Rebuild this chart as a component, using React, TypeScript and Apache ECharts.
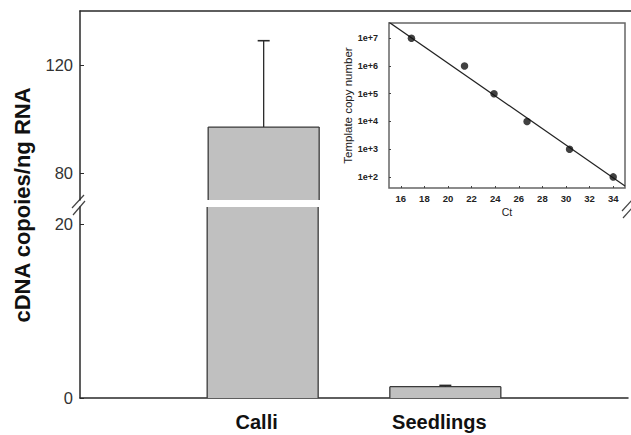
import React, { useEffect, useRef } from "react";
import * as echarts from "echarts";

// ---- data ----
const categories = ["Calli", "Seedlings"];
const meanCopies = [97, 1.3];
const errorTops = [129, 1.45];
const upperTicks = [80, 120];
const lowerTicks = [0, 20];

const stdCt = [16.9, 21.4, 23.9, 26.7, 30.3, 34.0];
const stdCopies = [1e7, 1e6, 1e5, 1e4, 1e3, 1e2];
const fitCt = [15, 35];
const fitCopies = [3.8e7, 4.7e1];
const insetXTicks = [16, 18, 20, 22, 24, 26, 28, 30, 32, 34];
const insetYTickExps = [2, 3, 4, 5, 6, 7];

const FONT = "'Liberation Sans', Arial, Helvetica, sans-serif";
const BAR_HALF = 55.5;

export default function App() {
  const ref = useRef<HTMLDivElement>(null);

  useEffect(() => {
    if (!ref.current) return;
    const chart = echarts.init(ref.current, undefined, { renderer: "svg" });

    const xData = ["", ...categories, ""];
    const barData = categories.map((c, i) => [c, meanCopies[i]]);
    const errData = categories.map((c, i) => [c, meanCopies[i], errorTops[i]]);

    const axisLineStyle = { color: "#2a2a2a", width: 1.5 };
    const edge = "#3a3a3a";

    // bar drawn through the axes; sides/top outlined only where the bar really ends
    const barRender = (params: any, api: any) => {
      const cs = params.coordSys;
      const p = api.coord([api.value(0), api.value(1)]);
      const yMin = cs.y;
      const yMax = cs.y + cs.height;
      const x = p[0];
      if (p[1] >= yMax) return { type: "group", children: [] };
      const top = Math.max(p[1], yMin);
      const children: any[] = [
        {
          type: "rect",
          shape: { x: x - BAR_HALF, y: top, width: BAR_HALF * 2, height: yMax - top },
          style: { fill: "#c0c0c0" },
        },
        {
          type: "line",
          shape: { x1: x - BAR_HALF, y1: top, x2: x - BAR_HALF, y2: yMax },
          style: { stroke: edge, lineWidth: 1.3 },
        },
        {
          type: "line",
          shape: { x1: x + BAR_HALF, y1: top, x2: x + BAR_HALF, y2: yMax },
          style: { stroke: edge, lineWidth: 1.3 },
        },
      ];
      if (p[1] >= yMin) {
        children.push({
          type: "line",
          shape: { x1: x - BAR_HALF, y1: p[1], x2: x + BAR_HALF, y2: p[1] },
          style: { stroke: edge, lineWidth: 1.3 },
        });
      }
      return { type: "group", children };
    };

    const errorRender = (params: any, api: any) => {
      const cs = params.coordSys;
      const base = api.coord([api.value(0), api.value(1)]);
      const top = api.coord([api.value(0), api.value(2)]);
      const yMin = cs.y;
      const yMax = cs.y + cs.height;
      const clamp = (v: number) => Math.min(Math.max(v, yMin), yMax);
      const y1 = clamp(base[1]);
      const y2 = clamp(top[1]);
      const x = base[0];
      const children: any[] = [];
      if (Math.abs(y1 - y2) > 0.01) {
        children.push({
          type: "line",
          shape: { x1: x, y1, x2: x, y2 },
          style: { stroke: "#2a2a2a", lineWidth: 1.3 },
        });
      }
      if (top[1] >= yMin && top[1] <= yMax) {
        children.push({
          type: "line",
          shape: { x1: x - 6, y1: top[1], x2: x + 6, y2: top[1] },
          style: { stroke: "#2a2a2a", lineWidth: 1.6 },
        });
      }
      return { type: "group", children };
    };

    const mainYAxis = (gridIndex: number, min: number, max: number, ticks: number[]) => ({
      gridIndex,
      type: "value",
      min,
      max,
      axisLine: { show: true, lineStyle: axisLineStyle },
      axisTick: { show: true, inside: true, length: 4, customValues: ticks, lineStyle: { color: "#2a2a2a" } },
      axisLabel: { customValues: ticks, fontSize: 16.5, color: "#333", margin: 7, fontFamily: FONT },
      splitLine: { show: false },
    });

    const option: any = {
      animation: false,
      backgroundColor: "#fff",
      grid: [
        { left: 80, top: 11, right: 0, height: 189 },
        { left: 80, top: 207, right: 0, bottom: 37 },
        {
          left: 389,
          top: 23,
          width: 236,
          height: 165,
          show: true,
          backgroundColor: "#fff",
          borderColor: "#666",
          borderWidth: 1.5,
        },
      ],
      xAxis: [
        {
          gridIndex: 0,
          type: "category",
          data: xData,
          boundaryGap: false,
          position: "top",
          axisLine: { show: true, onZero: false, lineStyle: axisLineStyle },
          axisTick: { show: false },
          axisLabel: { show: false },
        },
        {
          gridIndex: 1,
          type: "category",
          data: xData,
          boundaryGap: false,
          position: "bottom",
          axisLine: { show: true, onZero: false, lineStyle: axisLineStyle },
          axisTick: { show: false },
          axisLabel: {
            interval: 0,
            fontSize: 20,
            fontWeight: "bold",
            color: "#111",
            margin: 14,
            padding: [0, 12, 0, 0],
            fontFamily: FONT,
          },
        },
        {
          gridIndex: 2,
          type: "value",
          min: 15,
          max: 35,
          axisLine: { show: false },
          axisTick: { show: true, inside: true, length: 2, customValues: insetXTicks, lineStyle: { color: "#444" } },
          axisLabel: { customValues: insetXTicks, fontSize: 9.5, fontWeight: "bold", color: "#222", margin: 5, fontFamily: FONT },
          splitLine: { show: false },
          name: "Ct",
          nameLocation: "middle",
          nameGap: 18,
          nameTextStyle: { fontSize: 10.5, color: "#222", fontFamily: FONT },
        },
      ],
      yAxis: [
        mainYAxis(0, 70, 140, upperTicks),
        mainYAxis(1, 0, 22, lowerTicks),
        {
          gridIndex: 2,
          type: "value",
          min: 1.6,
          max: 7.55,
          axisLine: { show: false },
          axisTick: { show: true, inside: true, length: 2, customValues: insetYTickExps, lineStyle: { color: "#444" } },
          axisLabel: {
            customValues: insetYTickExps,
            formatter: (v: number) => "1e+" + v,
            fontSize: 9,
            fontWeight: "bold",
            color: "#222",
            margin: 11,
            fontFamily: FONT,
          },
          splitLine: { show: false },
          name: "Template copy number",
          nameLocation: "middle",
          nameGap: 35,
          nameTextStyle: { fontSize: 11.5, color: "#222", fontFamily: FONT },
        },
      ],
      series: [
        { type: "custom", xAxisIndex: 0, yAxisIndex: 0, data: barData, renderItem: barRender, z: 2 },
        { type: "custom", xAxisIndex: 1, yAxisIndex: 1, data: barData, renderItem: barRender, z: 2 },
        { type: "custom", xAxisIndex: 0, yAxisIndex: 0, data: errData, renderItem: errorRender, z: 5 },
        { type: "custom", xAxisIndex: 1, yAxisIndex: 1, data: errData, renderItem: errorRender, z: 5 },
        {
          type: "line",
          xAxisIndex: 2,
          yAxisIndex: 2,
          data: fitCt.map((x, i) => [x, Math.log10(fitCopies[i])]),
          symbol: "none",
          clip: true,
          lineStyle: { color: "#222", width: 1.2 },
          z: 3,
        },
        {
          type: "scatter",
          xAxisIndex: 2,
          yAxisIndex: 2,
          data: stdCt.map((x, i) => [x, Math.log10(stdCopies[i])]),
          symbolSize: 7.5,
          itemStyle: { color: "#111" },
          z: 4,
        },
      ],
      graphic: [
        {
          type: "text",
          x: 22,
          y: 205,
          rotation: Math.PI / 2,
          style: {
            text: "cDNA copoies/ng RNA",
            fontSize: 22,
            fontWeight: "bold",
            fontFamily: FONT,
            fill: "#111",
            align: "center",
            verticalAlign: "middle",
            textAlign: "center",
            textVerticalAlign: "middle",
          },
        },
        { type: "line", shape: { x1: 72, y1: 208, x2: 84, y2: 195 }, style: { stroke: "#444", lineWidth: 1.2 } },
        { type: "line", shape: { x1: 73, y1: 215, x2: 85, y2: 201 }, style: { stroke: "#444", lineWidth: 1.2 } },
        { type: "line", shape: { x1: 622, y1: 211, x2: 632, y2: 200 }, style: { stroke: "#444", lineWidth: 1.2 } },
        { type: "line", shape: { x1: 623, y1: 218, x2: 633, y2: 207 }, style: { stroke: "#444", lineWidth: 1.2 } },
      ],
    };

    chart.setOption(option);
    return () => chart.dispose();
  }, []);

  return (
    <div
      ref={ref}
      style={{ position: "fixed", left: 0, top: 0, width: 631, height: 435, background: "#fff" }}
    />
  );
}
